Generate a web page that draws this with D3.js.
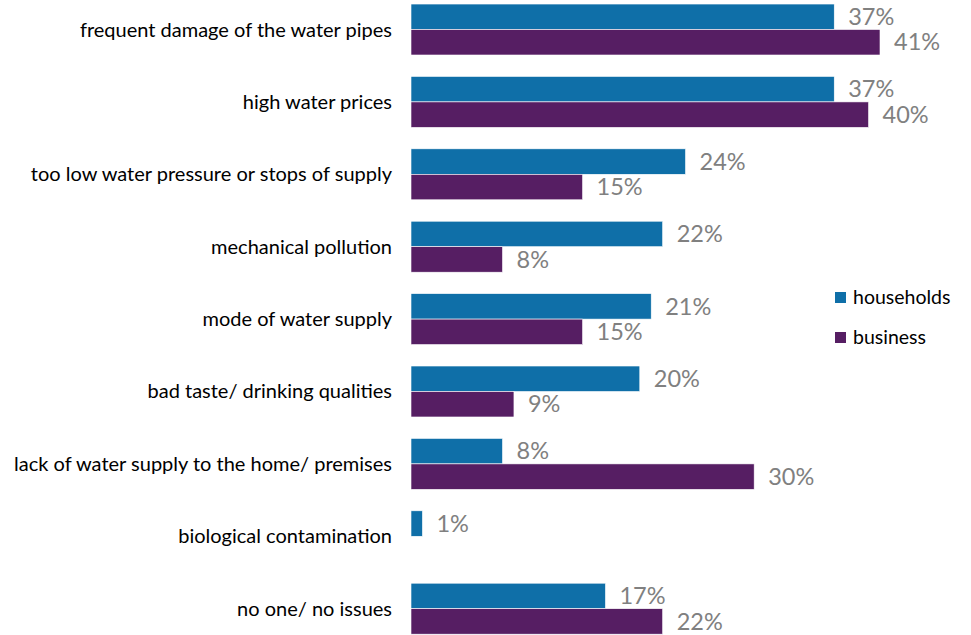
<!DOCTYPE html>
<html>
<head>
<meta charset="utf-8">
<script src="https://cdn.jsdelivr.net/npm/d3@7"></script>
<style>
  body { margin: 0; background: #fff; }
  svg { display: block; font-family: Lato, "Open Sans", sans-serif; }
</style>
</head>
<body>
<div id="chart"></div>
<script>
const width = 971;
const height = 635;

// Data
const categories = [
  "frequent damage of the water pipes",
  "high water prices",
  "too low water pressure or stops of supply",
  "mechanical pollution",
  "mode of water supply",
  "bad taste/ drinking qualities",
  "lack of water supply to the home/ premises",
  "biological contamination",
  "no one/ no issues"
];
const households = [37, 37, 24, 22, 21, 20, 8, 1, 17];
const business = [41, 40, 15, 8, 15, 9, 30, null, 22];
const seriesNames = ["households", "business"];
const seriesColors = ["#0f6fa8", "#561e63"];

const svg = d3.select("#chart")
  .append("svg")
  .attr("width", width)
  .attr("height", height);

// Scales
const x = d3.scaleLinear()
  .domain([0, 41])
  .range([411, 880]);

const y = d3.scaleBand()
  .domain(categories)
  .range([-17.4, 655.6])
  .padding(0.296);

const ySub = d3.scaleBand()
  .domain(seriesNames)
  .range([0, y.bandwidth()]);

const color = d3.scaleOrdinal()
  .domain(seriesNames)
  .range(seriesColors);

const rows = categories.map((c, i) => ({
  category: c,
  values: [
    { key: "households", value: households[i] },
    { key: "business", value: business[i] }
  ].filter(d => d.value != null)
}));

// Category labels (left axis)
svg.append("g")
  .selectAll("text")
  .data(categories)
  .enter()
  .append("text")
  .attr("x", 392)
  .attr("y", d => y(d) + y.bandwidth() / 2)
  .attr("dy", "0.35em")
  .attr("text-anchor", "end")
  .style("font-size", "20px")
  .style("fill", "#000")
  .text(d => d);

// Bars
const groups = svg.selectAll(".row")
  .data(rows)
  .enter()
  .append("g")
  .attr("class", "row")
  .attr("transform", d => `translate(0,${y(d.category)})`);

groups.selectAll("rect")
  .data(d => d.values)
  .enter()
  .append("rect")
  .attr("x", x(0))
  .attr("y", d => ySub(d.key))
  .attr("width", d => x(d.value) - x(0))
  .attr("height", ySub.bandwidth())
  .attr("fill", d => color(d.key))
  .attr("stroke", "#ffffff")
  .attr("stroke-width", 0.6);

// Value labels
groups.selectAll("text")
  .data(d => d.values)
  .enter()
  .append("text")
  .attr("x", d => x(d.value) + 14)
  .attr("y", d => ySub(d.key) + ySub.bandwidth() / 2)
  .attr("dy", "0.35em")
  .style("font-size", "23.5px")
  .style("fill", "#808080")
  .text(d => d.value + "%");

// Legend
const legend = svg.append("g")
  .selectAll("g")
  .data(seriesNames)
  .enter()
  .append("g")
  .attr("transform", (d, i) => `translate(835,${292 + i * 40})`);

legend.append("rect")
  .attr("width", 11)
  .attr("height", 11)
  .attr("fill", d => color(d));

legend.append("text")
  .attr("x", 18)
  .attr("y", 5.5)
  .attr("dy", "0.35em")
  .style("font-size", "19.5px")
  .style("fill", "#000")
  .text(d => d);
</script>
</body>
</html>
